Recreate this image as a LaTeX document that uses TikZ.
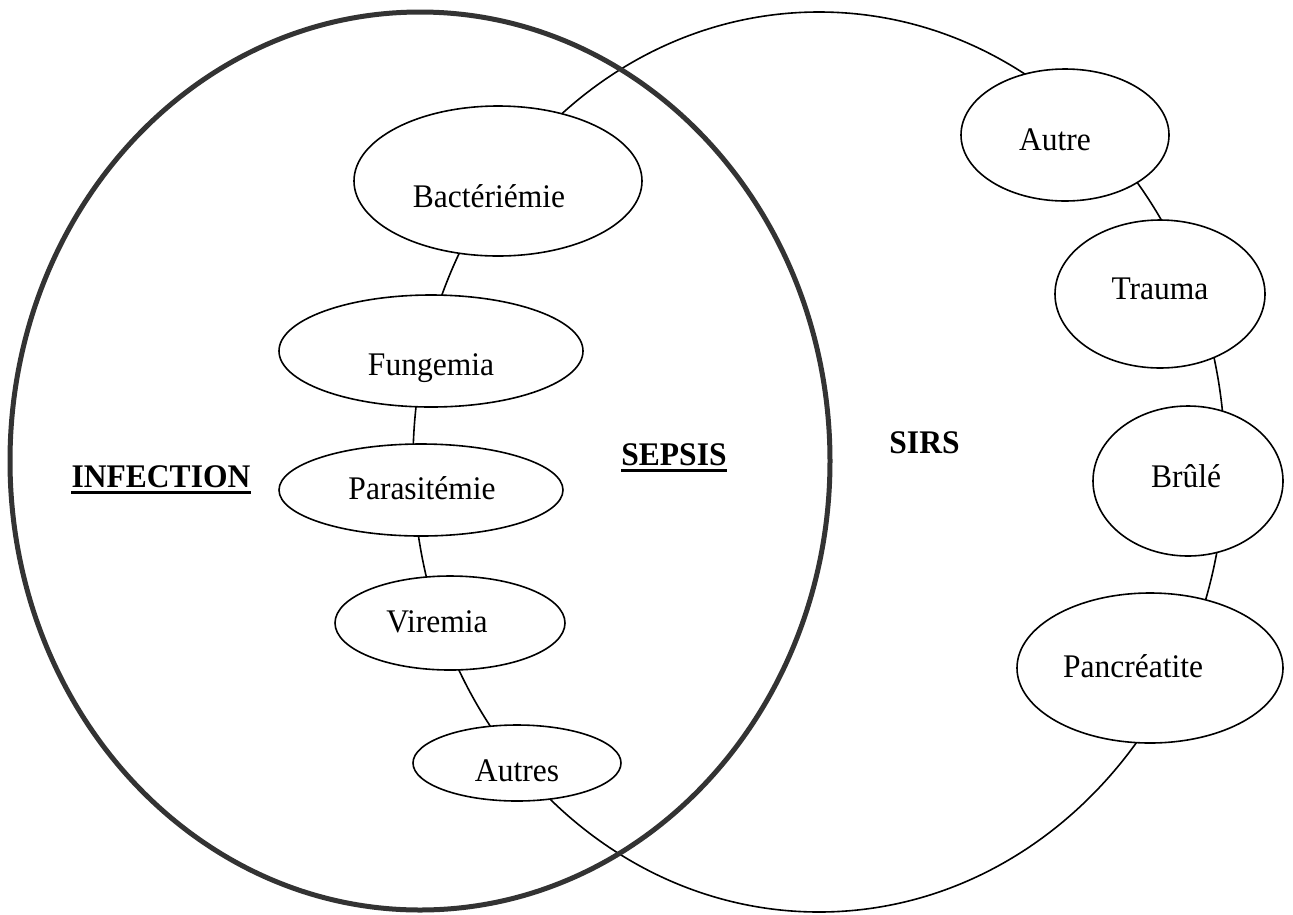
\documentclass[tikz,border=0pt]{standalone}
\usepackage{fontspec}
\setmainfont{Liberation Serif}
\usetikzlibrary{shapes.geometric}
\newcommand{\narrowtxt}[1]{\scalebox{0.955}[1]{#1}}
\begin{document}
\begin{tikzpicture}[x=1pt,y=-1pt,
  oval/.style={draw, ellipse, line width=1.6pt, fill=white, inner sep=0pt},
  lab/.style={font=\fontsize{33}{40}\selectfont, anchor=base, inner sep=0pt},
  ttl/.style={font=\fontsize{33}{40}\selectfont\bfseries, anchor=base, inner sep=0pt},
  uline/.style={line width=2.6pt}]
\useasboundingbox (0,0) rectangle (1293,914);
% SIRS ellipse (thin) and INFECTION ellipse (thick)
\draw[line width=1.6pt] (819,462) ellipse [x radius=406, y radius=450];
\draw[line width=5pt, black!80] (420,461) ellipse [x radius=410, y radius=449];
% ovals
\node[oval, minimum width=288pt, minimum height=150pt] (bac) at (498,181) {};
\node[oval, minimum width=304pt, minimum height=112pt] (fun) at (431,351) {};
\node[oval, minimum width=284pt, minimum height=92pt]  (par) at (421,490) {};
\node[oval, minimum width=230pt, minimum height=94pt]  (vir) at (450,623) {};
\node[oval, minimum width=208pt, minimum height=76pt]  (aus) at (517,763) {};
\node[oval, minimum width=208pt, minimum height=132pt] (aut) at (1065,135) {};
\node[oval, minimum width=210pt, minimum height=148pt] (tra) at (1160,294) {};
\node[oval, minimum width=190pt, minimum height=150pt] (bru) at (1188,481) {};
\node[oval, minimum width=266pt, minimum height=150pt] (pan) at (1150,668) {};
% oval texts
\node[lab] (tbac) at (489,207) {\narrowtxt{Bactériémie}};
\node[lab] (tfun) at (431,375) {\narrowtxt{Fungemia}};
\node[lab] (tpar) at (422,499) {\narrowtxt{Parasitémie}};
\node[lab] (tvir) at (437,632) {\narrowtxt{Viremia}};
\node[lab] (taus) at (517,781) {\narrowtxt{Autres}};
\node[lab] (taut) at (1055,150) {\narrowtxt{Autre}};
\node[lab] (ttra) at (1160,299) {\narrowtxt{Trauma}};
\node[lab] (tbru) at (1186,487) {\narrowtxt{Brûlé}};
\node[lab] (tpan) at (1133,677) {\narrowtxt{Pancréatite}};
% titles
\node[ttl] (inf) at (161,487) {\narrowtxt{INFECTION}};
\node[ttl] (sep) at (674,465) {\narrowtxt{SEPSIS}};
\node[ttl] (sirs) at (924.5,453) {\narrowtxt{SIRS}};
\draw[uline] ([yshift=-5.5pt]inf.base west) -- ([yshift=-5.5pt]inf.base east);
\draw[uline] ([yshift=-5.5pt]sep.base west) -- ([yshift=-5.5pt]sep.base east);
\end{tikzpicture}
\end{document}
